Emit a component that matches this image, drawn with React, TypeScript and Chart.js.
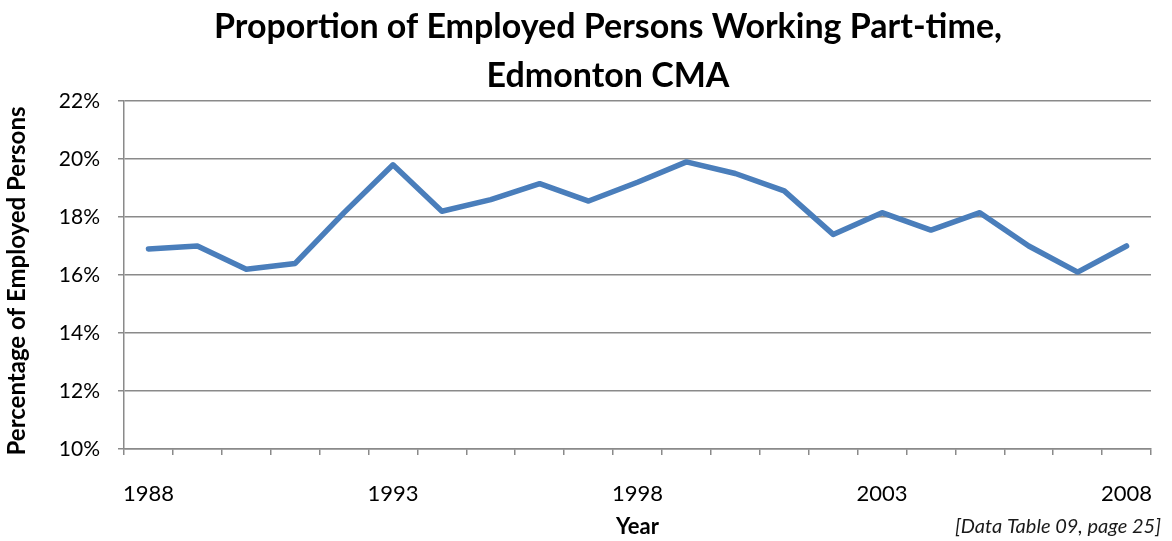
import React, { useEffect, useRef } from "react";
import { Chart, registerables } from "chart.js";

Chart.register(...registerables);

const years = ["1988","1989","1990","1991","1992","1993","1994","1995","1996","1997","1998","1999","2000","2001","2002","2003","2004","2005","2006","2007","2008"];
const partTimeShare = [16.9, 17.0, 16.2, 16.4, 18.15, 19.8, 18.2, 18.6, 19.15, 18.55, 19.2, 19.9, 19.5, 18.9, 17.4, 18.15, 17.55, 18.15, 17.0, 16.1, 17.0];
const titleLines = ["Proportion of Employed Persons Working Part-time,", "Edmonton CMA"];
const yTitle = "Percentage of Employed Persons";
const xTitle = "Year";
const sourceNote = "[Data Table 09, page 25]";
const yMin = 10;
const yMax = 22;
const yStep = 2;

const FONT = "Lato, 'Open Sans', sans-serif";
const GRID = "#8a8a8a";

export default function App() {
  const ref = useRef<HTMLCanvasElement | null>(null);

  useEffect(() => {
    document.body.style.margin = "0";
    const canvas = ref.current;
    if (!canvas) return;

    const textPlugin = {
      id: "extraText",
      afterDraw(chart: any) {
        const ctx = chart.ctx;
        ctx.save();
        ctx.fillStyle = "#000";
        // Title
        ctx.font = `bold 34px ${FONT}`;
        ctx.textAlign = "center";
        ctx.textBaseline = "alphabetic";
        ctx.fillText(titleLines[0], 608, 38);
        ctx.fillText(titleLines[1], 608, 87);
        // Y axis title
        ctx.save();
        ctx.translate(25, 281);
        ctx.rotate(-Math.PI / 2);
        ctx.font = `bold 24px ${FONT}`;
        ctx.textAlign = "center";
        ctx.textBaseline = "alphabetic";
        ctx.fillText(yTitle, 0, 0);
        ctx.restore();
        // Source note
        ctx.font = `italic 20px ${FONT}`;
        ctx.fillStyle = "#1a1a1a";
        ctx.textAlign = "right";
        ctx.fillText(sourceNote, 1161, 533);
        ctx.restore();
      },
    };

    const chart = new Chart(canvas, {
      type: "line",
      data: {
        labels: years,
        datasets: [
          {
            data: partTimeShare,
            borderColor: "#4a7ebb",
            borderWidth: 5.5,
            pointRadius: 0,
            tension: 0,
            borderCapStyle: "round",
            borderJoinStyle: "round",
            fill: false,
          },
        ],
      },
      options: {
        responsive: false,
        animation: false,
        layout: { padding: { left: 6, right: 21, top: 101, bottom: 0 } },
        plugins: {
          legend: { display: false },
          tooltip: { enabled: false },
          title: { display: false },
        },
        scales: {
          x: {
            type: "category",
            offset: true,
            grid: {
              offset: true,
              drawOnChartArea: false,
              drawTicks: true,
              tickLength: 6,
              color: GRID,
              lineWidth: 1.5,
            },
            border: { color: GRID, width: 1.5 },
            ticks: {
              autoSkip: false,
              maxRotation: 0,
              minRotation: 0,
              padding: 26,
              color: "#000",
              font: { family: FONT, size: 22 },
              callback: (_v: any, i: number) => ((Number(years[i]) - 1988) % 5 === 0 ? years[i] : ""),
            },
            title: {
              display: true,
              text: xTitle,
              color: "#000",
              font: { family: FONT, size: 22, weight: "bold", lineHeight: 1.2 },
              padding: { top: 0, bottom: 1 },
            },
            afterFit: (s: any) => {
              s.height = 92;
              s.paddingLeft = 0;
              s.paddingRight = 0;
            },
          },
          y: {
            min: yMin,
            max: yMax,
            grid: {
              color: GRID,
              lineWidth: 1.5,
              tickLength: 6,
              drawTicks: true,
            },
            border: { color: GRID, width: 1.5 },
            ticks: {
              stepSize: yStep,
              padding: 18,
              color: "#000",
              font: { family: FONT, size: 21 },
              callback: (v: any) => `${v}%`,
            },
            afterFit: (s: any) => {
              s.width = 118;
              s.paddingTop = 0;
              s.paddingBottom = 0;
            },
          },
        },
      },
      plugins: [textPlugin],
    });

    return () => chart.destroy();
  }, []);

  return (
    <div style={{ width: 1172, height: 541, background: "#fff" }}>
      <canvas ref={ref} width={1172} height={541} style={{ display: "block" }} />
    </div>
  );
}
